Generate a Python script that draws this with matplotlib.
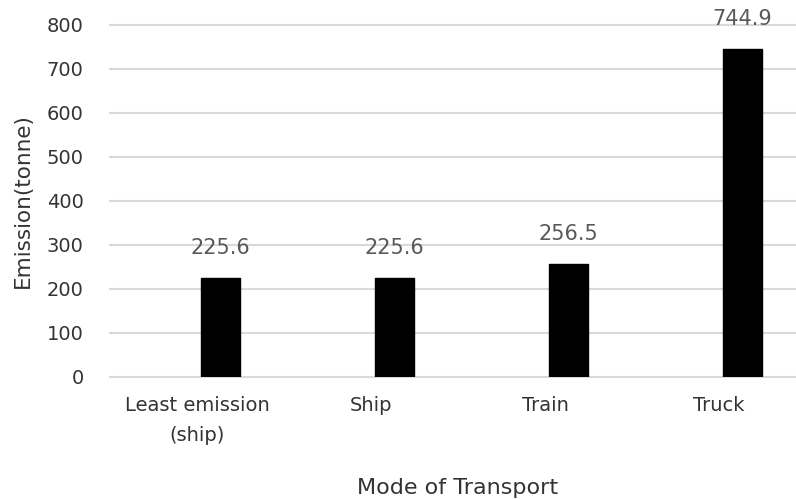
import matplotlib
matplotlib.use("Agg")
import matplotlib.pyplot as plt
import numpy as np

categories = ["Least emission\n(ship)", "Ship", "Train", "Truck"]
emission = [225.6, 225.6, 256.5, 744.9]
y_ticks = [0, 100, 200, 300, 400, 500, 600, 700, 800]

W, H = 796, 499
fig = plt.figure(figsize=(W / 100, H / 100), dpi=100)
# plot area in pixel terms: left 110, right 806 (runs past the edge), y=25 .. 377
ax = fig.add_axes([110 / W, 1 - 377 / H, (806 - 110) / W, (377 - 25) / H])

x = np.arange(len(categories))
bar_offset = 0.135
bar_width = 0.224
ax.bar(x + bar_offset, emission, width=bar_width, color="black",
       edgecolor="black", zorder=3)

for xi, v in zip(x, emission):
    ax.annotate(f"{v:.1f}", (xi + bar_offset, v), xytext=(0, 21.5),
                textcoords="offset points", ha="center", va="center",
                fontsize=15, color="#595959", family="DejaVu Sans")

ax.set_xlim(-0.5, len(categories) - 0.5)
ax.set_ylim(0, 800)
ax.set_yticks(y_ticks)
ax.set_xticks(x)
ax.set_xticklabels(categories, fontsize=14, color="#333333", linespacing=1.7)
ax.tick_params(axis="y", labelsize=14, labelcolor="#333333", length=0, pad=19)
ax.tick_params(axis="x", length=0, pad=14)

ax.grid(axis="y", color="#d9d9d9", linewidth=1.5, zorder=0)
for gl in ax.get_ygridlines():
    gl.set_clip_on(False)
ax.set_axisbelow(True)
for s in ax.spines.values():
    s.set_visible(False)

ax.set_xlabel("Mode of Transport", fontsize=16, color="#333333", labelpad=24)
ax.set_ylabel("Emission(tonne)", fontsize=15.5, color="#333333", labelpad=10)

fig.savefig("out.png", dpi=100, facecolor="white")
